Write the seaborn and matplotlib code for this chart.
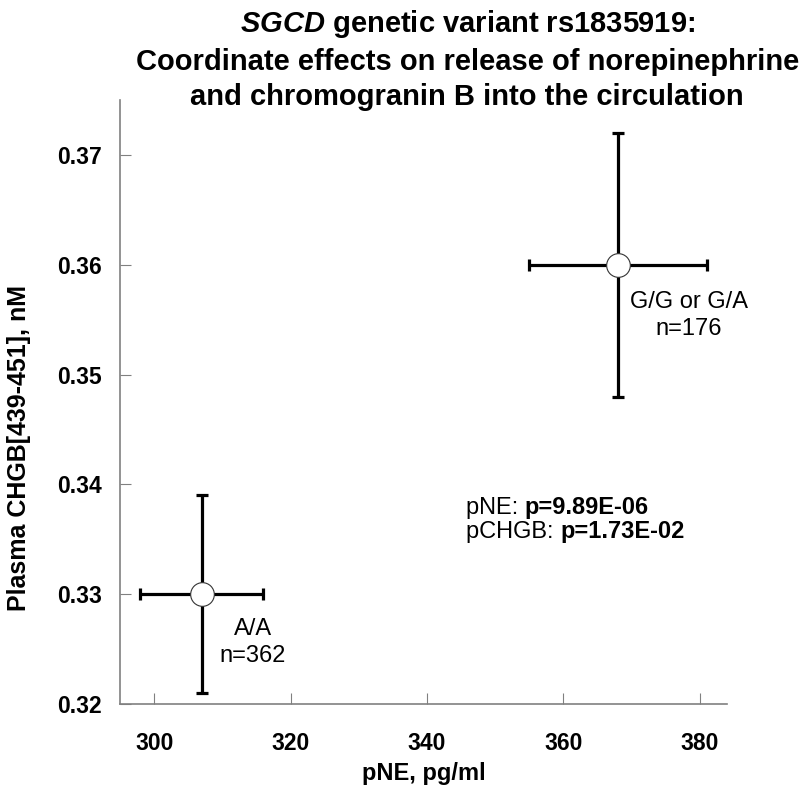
import seaborn as sns
import pandas as pd
import matplotlib.pyplot as plt

# genotype groups, means and error (half-width)
genotypes = ['A/A', 'G/G or G/A']
n_subjects = [362, 176]
pne_mean = [307, 368]
pne_err = [9, 13]
chgb_mean = [0.330, 0.360]
chgb_err = [0.009, 0.012]
p_labels = ['pNE: ', 'pCHGB: ']
p_values = ['p=9.89E-06', 'p=1.73E-02']

df = pd.DataFrame({'genotype': genotypes, 'n': n_subjects,
                   'pNE': pne_mean, 'pNE_err': pne_err,
                   'CHGB': chgb_mean, 'CHGB_err': chgb_err})

sns.set_style('ticks')
plt.rcParams['font.family'] = ['Liberation Sans', 'DejaVu Sans']
plt.rcParams['text.color'] = 'k'
plt.rcParams['axes.labelcolor'] = 'k'
plt.rcParams['xtick.labelcolor'] = 'k'
plt.rcParams['ytick.labelcolor'] = 'k'
plt.rcParams['mathtext.fontset'] = 'custom'
plt.rcParams['mathtext.it'] = 'Liberation Sans:italic:bold'
plt.rcParams['mathtext.rm'] = 'Liberation Sans:bold'

fig = plt.figure(figsize=(8, 7.93), dpi=100, facecolor='w')
ax = fig.add_axes([0.15, 0.112, 0.759, 0.762])

# error bars first, markers on top
ax.errorbar(df['pNE'], df['CHGB'], xerr=df['pNE_err'], yerr=df['CHGB_err'],
            fmt='none', ecolor='k', elinewidth=2.3, capsize=4.5, capthick=2.3, zorder=2)
sns.scatterplot(data=df, x='pNE', y='CHGB', ax=ax, s=290, color='white',
                edgecolor='#333333', linewidth=0.8, zorder=3, legend=False)

ax.set_xlim(295, 384)
ax.set_ylim(0.32, 0.375)
ax.set_xticks([300, 320, 340, 360, 380])
ax.set_yticks([0.32, 0.33, 0.34, 0.35, 0.36, 0.37])
ax.set_yticklabels(['%.2f' % v for v in ax.get_yticks()])

for spine in ['top', 'right']:
    ax.spines[spine].set_visible(False)
for spine in ['left', 'bottom']:
    ax.spines[spine].set_color('#808080')
    ax.spines[spine].set_linewidth(1.2)
ax.tick_params(axis='x', direction='in', length=8, color='#808080', labelsize=16.5, pad=20)
ax.tick_params(axis='y', direction='in', length=8, color='#808080', labelsize=16.5, pad=13)
for lab in ax.get_xticklabels() + ax.get_yticklabels():
    lab.set_fontweight('bold')

ax.set_xlabel('pNE, pg/ml', fontsize=17, fontweight='bold')
ax.set_ylabel('Plasma CHGB[439-451], nM', fontsize=18, fontweight='bold')
ax.xaxis.set_label_coords(0.5, -0.096)
ax.yaxis.set_label_coords(-0.147, 0.424)

# group labels
offsets = {'A/A': (7.5, -0.0044), 'G/G or G/A': (10.4, -0.0046)}
for _, row in df.iterrows():
    dx, dy = offsets[row['genotype']]
    ax.text(row['pNE'] + dx, row['CHGB'] + dy, f"{row['genotype']}\nn={row['n']}",
            ha='center', va='center', fontsize=17, linespacing=1.3)

# p values, label normal + value bold
p_y = [0.3379, 0.3357]
for lab, val, yy in zip(p_labels, p_values, p_y):
    t = ax.text(345.7, yy, lab, ha='left', va='center', fontsize=17)
    ax.annotate(val, xy=(1, 0.5), xycoords=t, ha='left', va='center',
                fontsize=17, fontweight='bold')

fig.text(0.584, 0.99,
         '$\\mathit{SGCD}$ genetic variant rs1835919:\n'
         'Coordinate effects on release of norepinephrine\n'
         'and chromogranin B into the circulation',
         ha='center', va='top', fontsize=21, fontweight='bold', linespacing=1.35)

fig.savefig('out.png', dpi=100, facecolor='w')
